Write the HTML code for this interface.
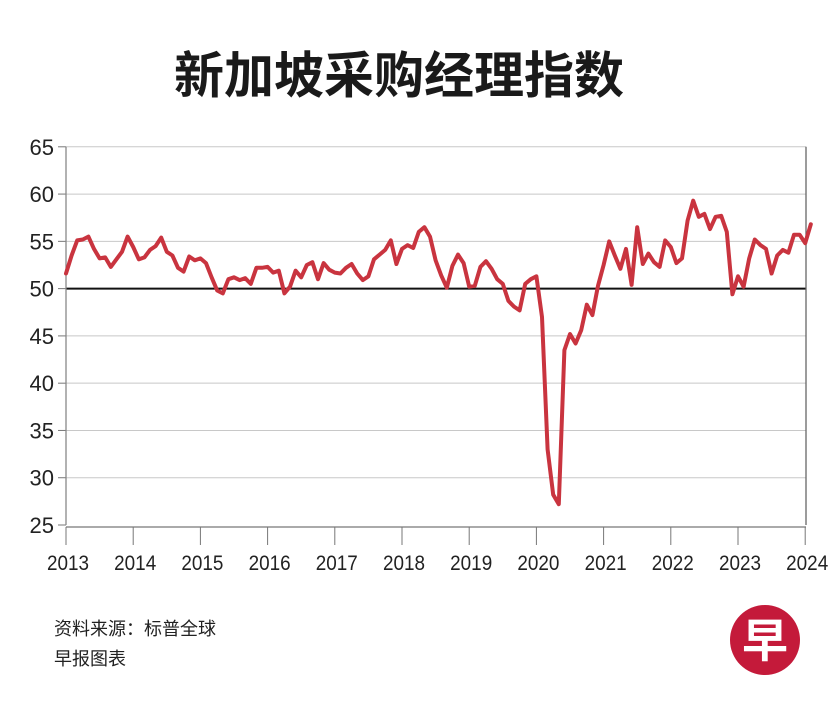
<!DOCTYPE html>
<html><head><meta charset="utf-8"><style>
body{margin:0;background:#fff;width:834px;height:709px;overflow:hidden;font-family:"Liberation Sans","Noto Sans CJK SC",sans-serif}
</style></head><body>
<svg id="chart" width="834" height="709" xmlns="http://www.w3.org/2000/svg" font-family="Liberation Sans, Noto Sans CJK SC, sans-serif">
<text x="399" y="93" text-anchor="middle" font-size="50" font-weight="bold" fill="#1a1a1a" font-family="Noto Sans CJK SC, sans-serif">新加坡采购经理指数</text>
<g id="grid"></g><g id="axes"></g><g id="series"></g>
<text x="54" y="635" font-size="18" fill="#222">资料来源：标普全球</text>
<text x="54" y="665" font-size="18" fill="#222">早报图表</text>
<circle cx="765" cy="640" r="35" fill="#c41a3a"/>
<text x="765" y="657" text-anchor="middle" font-size="46" font-weight="bold" fill="#fff" font-family="Noto Sans CJK SC, sans-serif">早</text>
</svg>
<script>
const yTicks=[25,30,35,40,45,50,55,60,65];
const years=[2013,2014,2015,2016,2017,2018,2019,2020,2021,2022,2023,2024];
const pmi=[51.6,53.5,55.1,55.2,55.5,54.2,53.2,53.3,52.3,53.1,53.9,55.5,
54.4,53.1,53.3,54.1,54.5,55.4,53.9,53.5,52.2,51.8,53.4,53.0,
53.2,52.7,51.2,49.8,49.5,51.0,51.2,50.9,51.1,50.5,52.2,52.2,
52.3,51.7,51.9,49.5,50.2,51.9,51.2,52.5,52.8,51.0,52.7,52.0,
51.7,51.6,52.2,52.6,51.6,50.9,51.3,53.1,53.6,54.1,55.1,52.6,
54.2,54.6,54.3,56.0,56.5,55.5,53.0,51.4,50.1,52.4,53.6,52.7,
50.2,50.3,52.3,52.9,52.1,51.0,50.5,48.7,48.1,47.7,50.5,51.0,
51.3,47.0,33.0,28.2,27.2,43.5,45.2,44.2,45.6,48.3,47.2,50.3,
52.5,55.0,53.5,52.1,54.2,50.4,56.5,52.6,53.7,52.8,52.3,55.1,
54.4,52.7,53.2,57.2,59.3,57.6,57.9,56.3,57.6,57.7,56.0,49.4,
51.3,50.2,53.2,55.2,54.6,54.2,51.6,53.5,54.1,53.8,55.7,55.7,
54.8,56.8];
const X0=66,X1=806,YT=146.8,YB=525;
const xOfMonth=i=>X0+i*5.6;
const yOf=v=>YB-(v-25)*(YB-YT)/40;
const NS="http://www.w3.org/2000/svg";
function mk(t,a,p){const e=document.createElementNS(NS,t);for(const k in a)e.setAttribute(k,a[k]);p.appendChild(e);return e;}
const grid=document.getElementById('grid'),axes=document.getElementById('axes'),ser=document.getElementById('series');
yTicks.forEach(v=>{
 const y=yOf(v);
 if(v>25&&v!==50){const l=mk('line',{x1:X0,x2:X1,y1:y,y2:y,stroke:'#c8c8c8','stroke-width':1},grid);
 
 }
 const tk=mk('line',{x1:X0-8,x2:X0,y1:y,y2:y,stroke:'#777','stroke-width':1},axes);
 
 
 const t=mk('text',{x:X0-12,y:y+8,'text-anchor':'end','font-size':22,fill:'#222'},axes);t.textContent=v;
 
 
});
const l50=mk('line',{x1:X0,x2:X1,y1:yOf(50),y2:yOf(50),stroke:'#111','stroke-width':2},axes);


const la=mk('line',{x1:X0,x2:X0,y1:YT,y2:YB,stroke:'#888','stroke-width':1.3},axes);


const ra=mk('line',{x1:X1,x2:X1,y1:YT,y2:YB,stroke:'#666','stroke-width':1.3},axes);


const ba=mk('line',{x1:X0,x2:X1,y1:YB+2,y2:YB+2,stroke:'#777','stroke-width':1.3},axes);


years.forEach((yr,k)=>{
 const x=xOfMonth(k*12);
 const tk=mk('line',{x1:x,x2:x,y1:YB+2,y2:YB+20,stroke:'#777','stroke-width':1},axes);
 
 
 const t=mk('text',{x:x+2,y:YB+45,'text-anchor':'middle','font-size':21,fill:'#222',transform:'translate('+(x+2)+',0) scale(0.9,1) translate('+(-(x+2))+',0)'},axes);t.textContent=yr;
 
 
});
const pts=pmi.map((v,i)=>xOfMonth(i).toFixed(1)+','+yOf(v).toFixed(1)).join(' ');
const pl=mk('polyline',{points:pts,fill:'none',stroke:'#c9343f','stroke-width':4,'stroke-linejoin':'round','stroke-linecap':'round'},ser);


</script>
</body></html>
